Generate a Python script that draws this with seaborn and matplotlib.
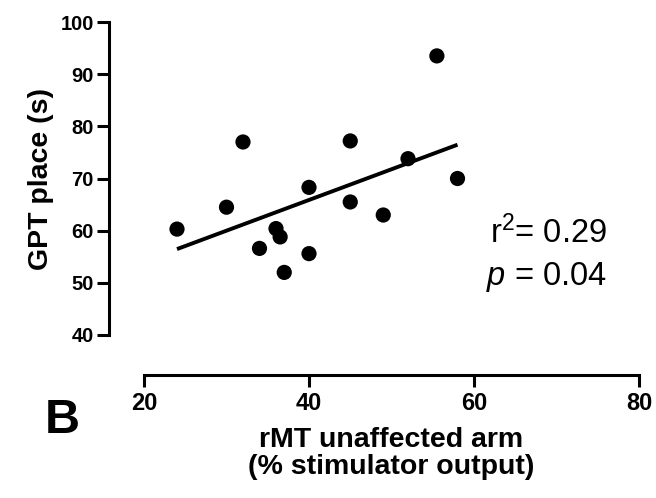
import numpy as np
import pandas as pd
import matplotlib
matplotlib.use("Agg")
import matplotlib.pyplot as plt
import seaborn as sns

# Data
rmt = [24, 30, 32, 34, 36, 36.5, 37, 40, 40, 45, 45, 49, 52, 55.5, 58]
gpt = [60.3, 64.5, 77.0, 56.6, 60.4, 58.8, 52.0, 68.3, 55.6, 77.2, 65.5, 63.0, 73.8, 93.5, 70.0]
x_ticks = [20, 40, 60, 80]
y_ticks = [40, 50, 60, 70, 80, 90, 100]
r2_text = "0.29"
p_text = "0.04"

sns.set_style("ticks")
plt.rcParams['font.family'] = ['Liberation Sans', 'DejaVu Sans']
plt.rcParams['mathtext.fontset'] = 'custom'
plt.rcParams['mathtext.rm'] = 'Liberation Sans'
plt.rcParams['mathtext.it'] = 'Liberation Sans:italic'
for key in ['text.color', 'axes.labelcolor', 'xtick.color', 'ytick.color',
            'xtick.labelcolor', 'ytick.labelcolor', 'axes.edgecolor']:
    plt.rcParams[key] = 'black'

df = pd.DataFrame({"rmt": rmt, "gpt": gpt})

W, H = 656, 498
fig = plt.figure(figsize=(W / 100, H / 100), dpi=100)
ax = fig.add_axes([144 / W, 1 - 335 / H, (639 - 144) / W, (335 - 22) / H])

sns.regplot(data=df, x="rmt", y="gpt", ax=ax, ci=None,
            scatter_kws=dict(s=120, color="black", edgecolor="none", alpha=1),
            line_kws=dict(color="black", lw=2.8, solid_capstyle="butt"))

ax.set_xlim(20, 80)
ax.set_ylim(40, 100)
ax.set_xticks(x_ticks)
ax.set_yticks(y_ticks)
ax.set_facecolor("white")

for side in ["top", "right"]:
    ax.spines[side].set_visible(False)
ax.spines["left"].set_position(("outward", 25))
ax.spines["bottom"].set_position(("outward", 29))
for side in ["left", "bottom"]:
    ax.spines[side].set_linewidth(2.2)
    ax.spines[side].set_color("black")

ax.tick_params(axis="both", direction="out", length=8.5, width=2.2,
               color="black", labelcolor="black")
ax.tick_params(axis="x", labelsize=17, pad=3.5)
ax.tick_params(axis="y", labelsize=14.5, pad=2.5)
for lab in ax.get_xticklabels() + ax.get_yticklabels():
    lab.set_fontweight("bold")

ax.set_xlabel("rMT unaffected arm\n(% stimulator output)", fontsize=20.5,
              fontweight="bold", labelpad=9, linespacing=1.05, color="black")
ax.set_ylabel("GPT place (s)", fontsize=20.5, fontweight="bold", labelpad=5,
              color="black")

fig.text(490 / W, 1 - 243 / H, "r$^{2}$= " + r2_text, fontsize=23.5,
         ha="left", va="baseline", color="black")
fig.text(486 / W, 1 - 285 / H, "$p$ = " + p_text, fontsize=23.5,
         ha="left", va="baseline", color="black")
fig.text(45 / W, 1 - 433 / H, "B", fontsize=35, fontweight="bold",
         ha="left", va="baseline", color="black")

fig.savefig("out.png", dpi=100, facecolor="white")
